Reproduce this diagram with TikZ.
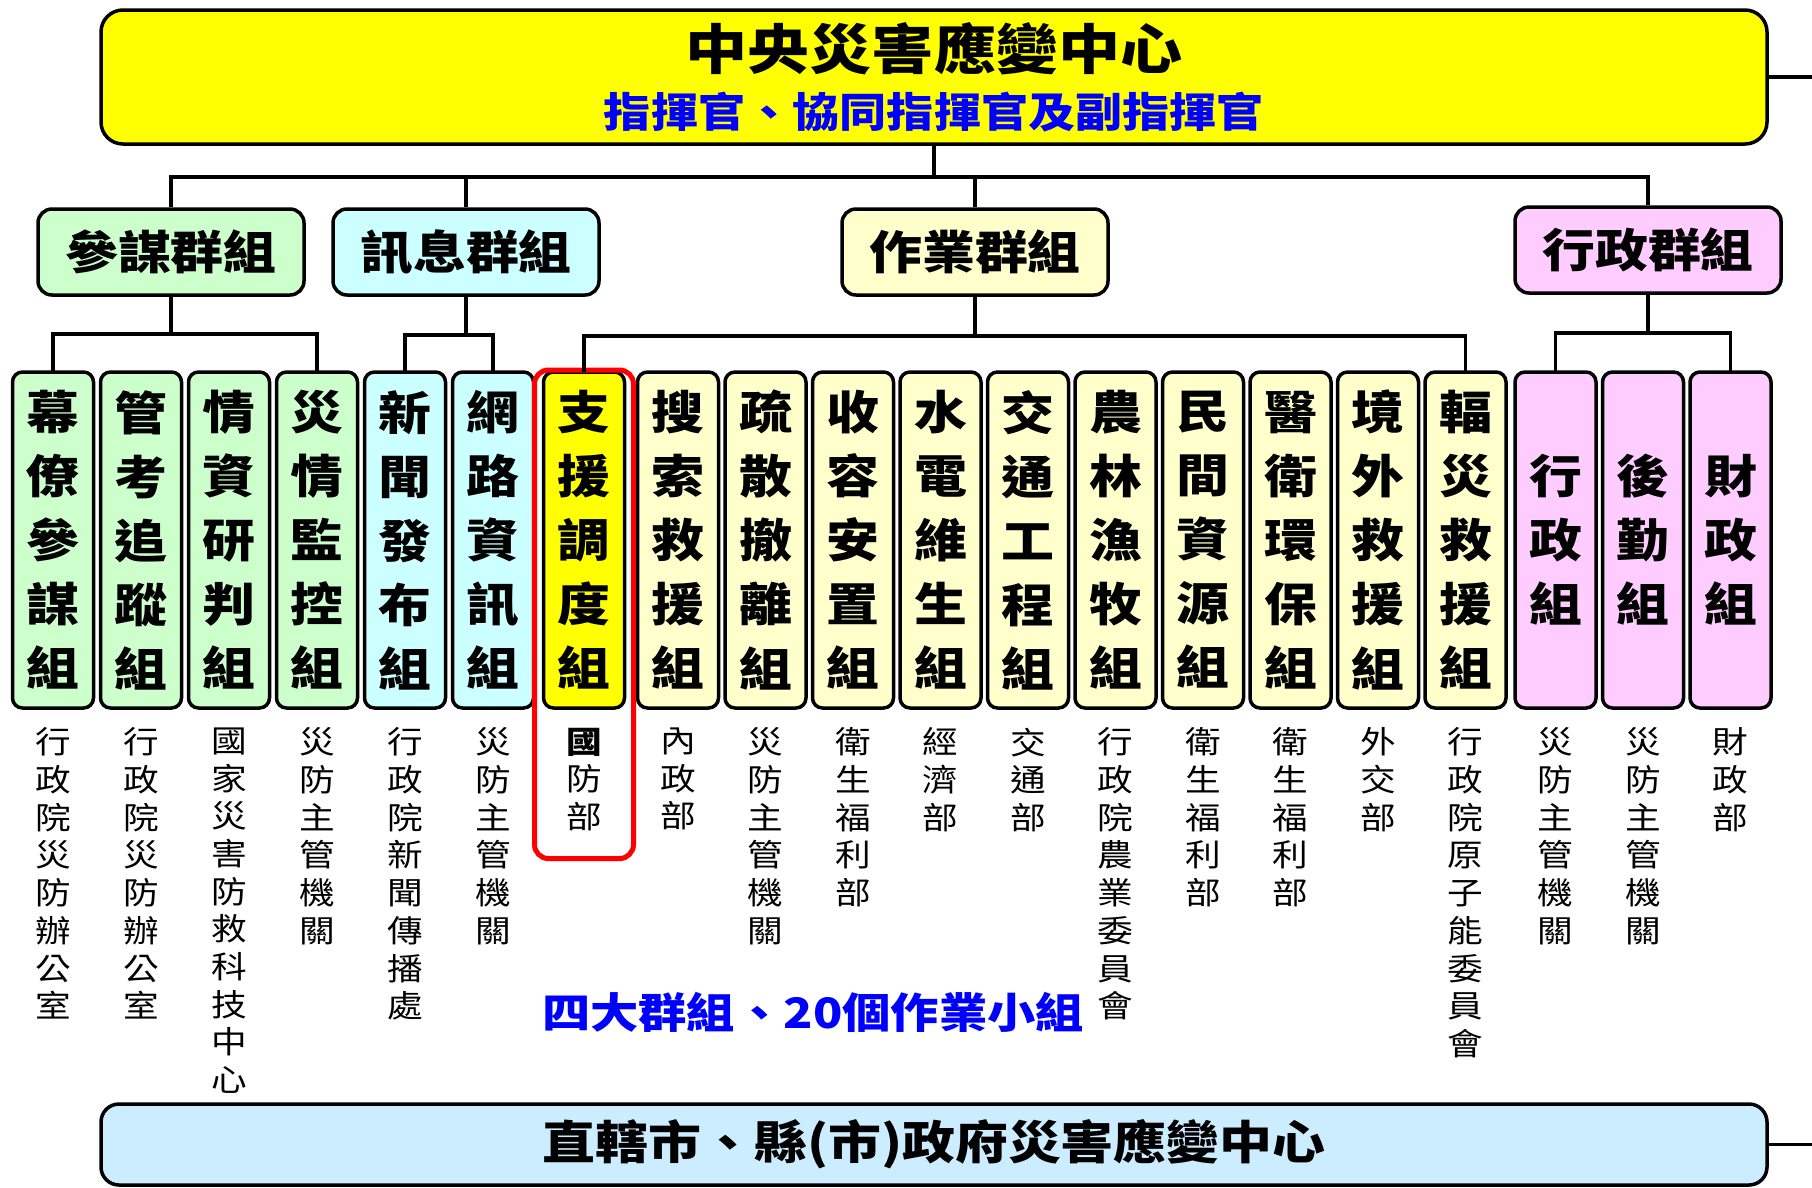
\documentclass[tikz,border=0pt]{standalone}
\usepackage{fontspec}
\setmainfont{Noto Sans CJK TC}[FakeStretch=1.15]
\usepackage{xcolor}
\usepackage{tikz}
\usetikzlibrary{positioning, fit}

\definecolor{hqyellow}{HTML}{FFFF00}
\definecolor{staffgreen}{HTML}{CCFFCC}
\definecolor{infocyan}{HTML}{CCFFFF}
\definecolor{opsyellow}{HTML}{FFFFCC}
\definecolor{adminpink}{HTML}{FFCCFF}
\definecolor{localblue}{HTML}{CCECFF}

\begin{document}
\begin{tikzpicture}[x=1pt, y=1pt, line width=3.5pt, node distance=6.5pt,
    command/.style={draw, rounded corners=22pt, fill=hqyellow, minimum width=1666pt, minimum height=134pt, align=center, font=\fontsize{54}{58}\selectfont\bfseries},
    cluster/.style={draw, rounded corners=14pt, minimum width=266pt, minimum height=86pt, font=\fontsize{46}{50}\selectfont\bfseries},
    team/.style={draw, rounded corners=10pt, minimum width=81pt, minimum height=336pt, inner sep=0pt, outer sep=0pt, align=center, font=\fontsize{46}{64}\selectfont\bfseries},
    agency/.style={below=18pt of #1, inner sep=0pt, align=center, font=\fontsize{31}{37.7}\selectfont},
    summary/.style={text=blue, font=\fontsize{42}{50}\selectfont\bfseries},
    localbox/.style={draw, rounded corners=18pt, fill=localblue, minimum width=1666pt, minimum height=81pt, font=\fontsize{46}{50}\selectfont\bfseries}]
    \useasboundingbox (0,0) rectangle (1812,-1187);

    % 中央
    \node[command] (center_eoc) at (934,-77) {中央災害應變中心\\{\color{blue}\fontsize{41}{58}\selectfont 指揮官、協同指揮官及副指揮官}};

    % 四大群組
    \node[cluster, fill=staffgreen] (plan_group) at (171,-252) {參謀群組};
    \node[cluster, fill=infocyan] (info_group) at (466,-252) {訊息群組};
    \node[cluster, fill=opsyellow] (ops_group) at (975,-252) {作業群組};
    \node[cluster, fill=adminpink] (admin_group) at (1648,-250) {行政群組};

    % 作業小組
    \node[team, fill=staffgreen] (advisory) at (53,-540) {幕\\僚\\參\\謀\\組};
    \node[team, fill=staffgreen] (tracking) [right=7pt of advisory] {管\\考\\追\\蹤\\組};
    \node[team, fill=staffgreen] (analysis) [right=7pt of tracking] {情\\資\\研\\判\\組};
    \node[team, fill=staffgreen] (monitor) [right=7pt of analysis] {災\\情\\監\\控\\組};
    \node[team, fill=infocyan] (press) [right=7pt of monitor] {新\\聞\\發\\布\\組};
    \node[team, fill=infocyan] (network) [right=7pt of press] {網\\路\\資\\訊\\組};
    \node[team, fill=hqyellow] (support) [right=10pt of network] {支\\援\\調\\度\\組};
    \node[team, fill=opsyellow] (search) [right=13pt of support] {搜\\索\\救\\援\\組};
    \node[team, fill=opsyellow] (evacuate) [right=of search] {疏\\散\\撤\\離\\組};
    \node[team, fill=opsyellow] (shelter) [right=of evacuate] {收\\容\\安\\置\\組};
    \node[team, fill=opsyellow] (utility) [right=of shelter] {水\\電\\維\\生\\組};
    \node[team, fill=opsyellow] (traffic) [right=of utility] {交\\通\\工\\程\\組};
    \node[team, fill=opsyellow] (farming) [right=of traffic] {農\\林\\漁\\牧\\組};
    \node[team, fill=opsyellow] (resource) [right=of farming] {民\\間\\資\\源\\組};
    \node[team, fill=opsyellow] (medical) [right=of resource] {醫\\衛\\環\\保\\組};
    \node[team, fill=opsyellow] (foreign) [right=of medical] {境\\外\\救\\援\\組};
    \node[team, fill=opsyellow] (radiation) [right=of foreign] {輻\\災\\救\\援\\組};
    \node[team, fill=adminpink] (administration) [right=9pt of radiation] {行\\政\\組};
    \node[team, fill=adminpink] (logistics) [right=of administration] {後\\勤\\組};
    \node[team, fill=adminpink] (finance) [right=of logistics] {財\\政\\組};

    % 主責機關
    \node[agency=advisory] (advisory_dept) {行\\政\\院\\災\\防\\辦\\公\\室};
    \node[agency=tracking] (tracking_dept) {行\\政\\院\\災\\防\\辦\\公\\室};
    \node[agency=analysis] (analysis_dept) {國\\家\\災\\害\\防\\救\\科\\技\\中\\心};
    \node[agency=monitor] (monitor_dept) {災\\防\\主\\管\\機\\關};
    \node[agency=press] (press_dept) {行\\政\\院\\新\\聞\\傳\\播\\處};
    \node[agency=network] (network_dept) {災\\防\\主\\管\\機\\關};
    \node[agency=support] (support_dept) {\bfseries 國\\防\\部};
    \node[agency=search] (search_dept) {內\\政\\部};
    \node[agency=evacuate] (evacuate_dept) {災\\防\\主\\管\\機\\關};
    \node[agency=shelter] (shelter_dept) {衛\\生\\福\\利\\部};
    \node[agency=utility] (utility_dept) {經\\濟\\部};
    \node[agency=traffic] (traffic_dept) {交\\通\\部};
    \node[agency=farming] (farming_dept) {行\\政\\院\\農\\業\\委\\員\\會};
    \node[agency=resource] (resource_dept) {衛\\生\\福\\利\\部};
    \node[agency=medical] (medical_dept) {衛\\生\\福\\利\\部};
    \node[agency=foreign] (foreign_dept) {外\\交\\部};
    \node[agency=radiation] (radiation_dept) {行\\政\\院\\原\\子\\能\\委\\員\\會};
    \node[agency=administration] (administration_dept) {災\\防\\主\\管\\機\\關};
    \node[agency=logistics] (logistics_dept) {災\\防\\主\\管\\機\\關};
    \node[agency=finance] (finance_dept) {財\\政\\部};

    \node[draw=red, line width=5pt, rounded corners=14pt, fit=(support)(support_dept), inner xsep=9pt, inner ysep=14pt, yshift=-12pt] (focus) {};

    \node[summary] (summary) at (813,-1012) {四大群組、20個作業小組};

    % 地方
    \node[localbox] (local_eoc) at (934,-1144.5) {直轄市、縣(市)政府災害應變中心};

    % 連線
    \draw (center_eoc.south) -- ++(0,-31) coordinate (top_bus);
    \draw (plan_group.north) |- (top_bus -| admin_group.north) -- (admin_group.north);
    \draw (info_group.north) -- (info_group.north |- top_bus);
    \draw (ops_group.north) -- (ops_group.north |- top_bus);

    \draw (plan_group.south) -- ++(0,-37) coordinate (plan_bus);
    \draw (advisory.north) |- (plan_bus -| monitor.north) -- (monitor.north);
    \draw (info_group.south) -- ++(0,-38) coordinate (info_bus);
    \draw (press.north) |- (info_bus -| network.north) -- (network.north);
    \draw (ops_group.south) -- ++(0,-39) coordinate (ops_bus);
    \draw (support.north) |- (ops_bus -| radiation.north) -- (radiation.north);
    \draw (admin_group.south) -- ++(0,-38) coordinate (admin_bus);
    \draw (administration.north) |- (admin_bus -| finance.north) -- (finance.north);

    \coordinate (rim) at (1812,0);
    \draw (center_eoc.east) -- (center_eoc.east -| rim);
    \draw (local_eoc.east) -- (local_eoc.east -| rim);
\end{tikzpicture}
\end{document}
